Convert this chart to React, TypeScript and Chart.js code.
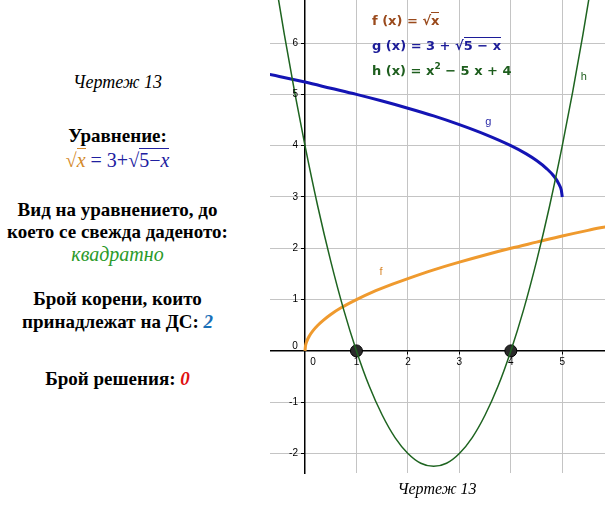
import React, { useEffect, useRef } from "react";
import { Chart, registerables } from "chart.js";

Chart.register(...registerables);

// f(x) = sqrt(x)
const fX = [0, 0.01, 0.04, 0.09, 0.16, 0.25, 0.36, 0.5, 0.7, 1, 1.3, 1.7, 2, 2.5, 3, 3.5, 4, 4.5, 5, 5.5, 5.9];
const fY = [0, 0.1, 0.2, 0.3, 0.4, 0.5, 0.6, 0.71, 0.84, 1, 1.14, 1.3, 1.41, 1.58, 1.73, 1.87, 2, 2.12, 2.24, 2.35, 2.43];
// g(x) = 3 + sqrt(5 - x)
const gX = [-0.8, -0.5, 0, 0.5, 1, 1.5, 2, 2.5, 3, 3.5, 4, 4.3, 4.5, 4.7, 4.85, 4.94, 4.98, 5];
const gY = [5.41, 5.35, 5.24, 5.12, 5, 4.87, 4.73, 4.58, 4.41, 4.22, 4, 3.84, 3.71, 3.55, 3.39, 3.24, 3.14, 3];
// h(x) = x^2 - 5x + 4
const hX = [-0.8, -0.6, -0.4, -0.2, 0, 0.25, 0.5, 0.75, 1, 1.25, 1.5, 1.75, 2, 2.25, 2.5, 2.75, 3, 3.25, 3.5, 3.75, 4, 4.25, 4.5, 4.75, 5, 5.2, 5.4, 5.6, 5.8, 6];
const hY = [8.64, 7.36, 6.16, 5.04, 4, 2.81, 1.75, 0.81, 0, -0.69, -1.25, -1.69, -2, -2.19, -2.25, -2.19, -2, -1.69, -1.25, -0.69, 0, 0.81, 1.75, 2.81, 4, 5.04, 6.16, 7.36, 8.64, 10];
// intersection points of h with the x axis
const rootX = [1, 4];
const rootY = [0, 0];

// axis ranges
const X_MIN = -0.68;
const X_MAX = 5.83;
const Y_MIN = -2.38;
const Y_MAX = 6.84;

const curveLabels = [
  { text: "f", x: 1.48, y: 1.54, color: "#d8862a" },
  { text: "g", x: 3.56, y: 4.46, color: "#2a2aa8" },
  { text: "h", x: 5.42, y: 5.34, color: "#1e5e1e" },
];

const zip = (xs: number[], ys: number[]) => xs.map((x, i) => ({ x, y: ys[i] }));

const SERIF = '"Liberation Serif", "Times New Roman", serif';
const SANS = '"DejaVu Sans", "Liberation Sans", sans-serif';
const TICK_FONT = '"Liberation Sans", Arial, sans-serif';

const labelsPlugin = {
  id: "labelsPlugin",
  afterDatasetsDraw(chart: any) {
    const { ctx, scales } = chart;
    const xs = scales.x;
    const ys = scales.y;
    const x0 = xs.getPixelForValue(0);
    const y0 = ys.getPixelForValue(0);
    ctx.save();
    ctx.font = `10px ${TICK_FONT}`;
    ctx.fillStyle = "#000";
    ctx.textBaseline = "middle";
    // y-axis tick labels, from the y scale's own ticks
    ctx.textAlign = "right";
    ys.ticks.forEach((t: any) => {
      if (t.value === 0) return;
      ctx.fillText(String(t.value), x0 - 7, ys.getPixelForValue(t.value));
    });
    // origin labels
    ctx.textAlign = "center";
    ctx.fillText("0", x0 + 8, y0 + 11);
    ctx.fillText("0", x0 - 10, y0 - 5);
    ctx.font = `11px ${TICK_FONT}`;
    curveLabels.forEach((l) => {
      ctx.fillStyle = l.color;
      ctx.fillText(l.text, xs.getPixelForValue(l.x), ys.getPixelForValue(l.y));
    });
    ctx.restore();
  },
};

function Sqrt({ children, color }: { children: React.ReactNode; color?: string }) {
  return (
    <span style={{ whiteSpace: "nowrap", color }}>
      √<span style={{ borderTop: "1px solid", paddingTop: 0 }}>{children}</span>
    </span>
  );
}

export default function App() {
  const canvasRef = useRef<HTMLCanvasElement | null>(null);

  useEffect(() => {
    if (!canvasRef.current) return;
    const chart = new Chart(canvasRef.current, {
      type: "line",
      data: {
        datasets: [
          {
            label: "h",
            data: zip(hX, hY),
            borderColor: "#1e6420",
            borderWidth: 1.5,
            pointRadius: 0,
            cubicInterpolationMode: "monotone",
          },
          {
            label: "f",
            data: zip(fX, fY),
            borderColor: "#ef9a2e",
            borderWidth: 3,
            pointRadius: 0,
            cubicInterpolationMode: "monotone",
          },
          {
            label: "g",
            data: zip(gX, gY),
            borderColor: "#1414b4",
            borderWidth: 3,
            pointRadius: 0,
            cubicInterpolationMode: "monotone",
          },
          {
            label: "roots",
            type: "scatter",
            data: zip(rootX, rootY),
            showLine: false,
            pointRadius: 6,
            pointBackgroundColor: "#2a2a2a",
            pointBorderColor: "#000",
            pointBorderWidth: 1,
          } as any,
        ],
      },
      options: {
        animation: false,
        responsive: false,
        maintainAspectRatio: false,
        layout: { autoPadding: false, padding: { left: 0, right: 0, top: 0, bottom: 34 } } as any,
        plugins: {
          legend: { display: false },
          tooltip: { enabled: false },
        },
        scales: {
          x: {
            type: "linear",
            position: { y: 0 } as any,
            min: X_MIN,
            max: X_MAX,
            grid: { color: "#c4c4c4", lineWidth: 1, tickLength: 3, tickColor: "#000" },
            border: { display: true, color: "#000", width: 1.5 },
            ticks: {
              stepSize: 1,
              includeBounds: false,
              padding: 2,
              color: "#000",
              font: { family: TICK_FONT, size: 10 },
              maxRotation: 0,
              callback: (v: any) => (Number(v) === 0 ? "" : String(v)),
            },
          },
          y: {
            type: "linear",
            position: { x: 0 } as any,
            min: Y_MIN,
            max: Y_MAX,
            grid: { color: "#c4c4c4", lineWidth: 1, tickLength: 3, tickColor: "#000" },
            border: { display: true, color: "#000", width: 1.5 },
            ticks: {
              display: false,
              stepSize: 1,
              includeBounds: false,
            },
          },
        },
      },
      plugins: [labelsPlugin],
    });
    return () => chart.destroy();
  }, []);

  const line = (top: number, content: React.ReactNode, style: React.CSSProperties = {}) => (
    <div
      style={{
        position: "absolute",
        left: 0,
        width: 235,
        top: top - 12,
        height: 24,
        lineHeight: "24px",
        textAlign: "center",
        fontFamily: SERIF,
        fontSize: 19,
        fontWeight: "bold",
        color: "#000",
        whiteSpace: "nowrap",
        ...style,
      }}
    >
      {content}
    </div>
  );

  return (
    <div style={{ position: "absolute", left: 0, top: 0, width: 605, height: 507, background: "#fff", overflow: "hidden" }}>
      {line(82, "Чертеж 13", { fontWeight: "normal", fontStyle: "italic", fontSize: 18 })}
      {line(136, "Уравнение:")}
      {line(
        160,
        <span style={{ fontWeight: "normal", fontSize: 20, color: "#2020a0" }}>
          <Sqrt color="#d4892a">
            <i>x</i>
          </Sqrt>
          {" = 3+"}
          <Sqrt>
            5−<i>x</i>
          </Sqrt>
        </span>
      )}
      {line(210, "Вид на уравнението, до")}
      {line(232, "което се свежда даденото:")}
      {line(254, "квадратно", { fontWeight: "normal", fontStyle: "italic", color: "#2a9a2a", fontSize: 20 })}
      {line(299, "Брой корени, които")}
      {line(
        322,
        <span>
          принадлежат на ДС: <i style={{ color: "#1a70b8" }}>2</i>
        </span>
      )}
      {line(
        379,
        <span>
          Брой решения: <i style={{ color: "#e01010" }}>0</i>
        </span>
      )}

      <canvas
        ref={canvasRef}
        width={335}
        height={507}
        style={{ position: "absolute", left: 270, top: 0, width: 335, height: 507 }}
      />

      <div
        style={{
          position: "absolute",
          left: 372,
          top: 8,
          fontFamily: SANS,
          fontWeight: "bold",
          fontSize: 13,
          lineHeight: "25px",
          whiteSpace: "nowrap",
        }}
      >
        <div style={{ color: "#9a4a1c" }}>
          f (x) = <Sqrt>x</Sqrt>
        </div>
        <div style={{ color: "#1c1c98" }}>
          g (x) = 3 + <Sqrt>5 − x</Sqrt>
        </div>
        <div style={{ color: "#1e5e1e" }}>
          h (x) = x<sup style={{ fontSize: 9, verticalAlign: "6px", lineHeight: 0 }}>2</sup> − 5 x + 4
        </div>
      </div>

      <div
        style={{
          position: "absolute",
          left: 337,
          width: 200,
          top: 478,
          textAlign: "center",
          fontFamily: SERIF,
          fontStyle: "italic",
          fontSize: 16,
          lineHeight: "22px",
          color: "#000",
        }}
      >
        Чертеж 13
      </div>
    </div>
  );
}
